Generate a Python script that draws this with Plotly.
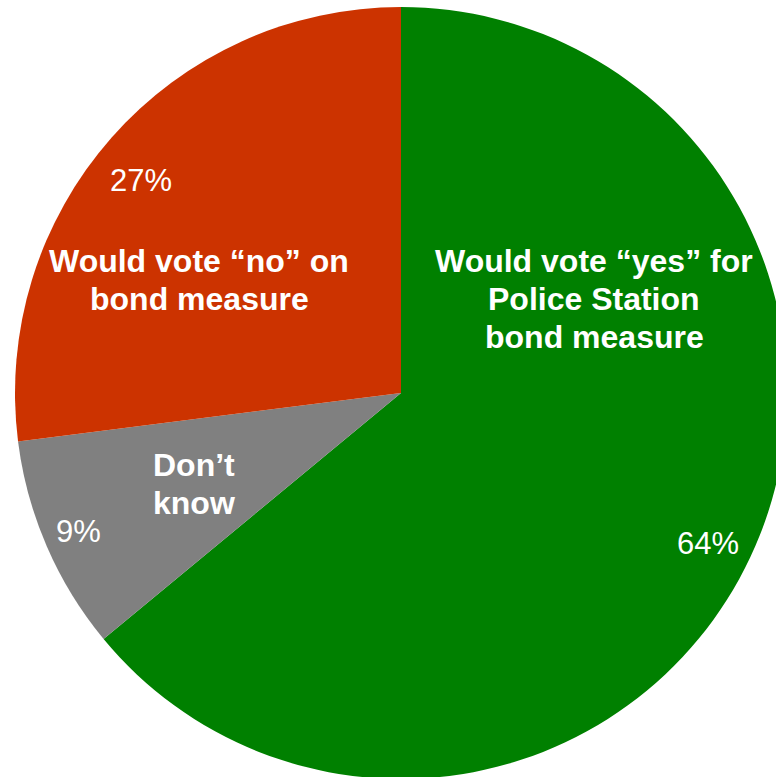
import plotly.graph_objects as go

# Data
categories = ["Would vote “yes” for<br>Police Station<br>bond measure", "Don’t<br>know", "Would vote “no” on<br>bond measure"]
values = [64, 9, 27]
pct_labels = ["64%", "9%", "27%"]
colors = ["#008000", "#808080", "#CC3300"]

# Figure geometry (figure is slightly larger than window so the pie is cropped like the reference)
W, H = 802, 786
ML, MR, MT, MB = 15, 15, 7, 7
PW, PH = W - ML - MR, H - MT - MB
LINE = 38

def px(x, y):
    return (x - ML) / PW, 1 - (y - MT) / PH

fig = go.Figure(go.Pie(
    labels=["yes", "dk", "no"],
    values=values,
    sort=False,
    direction="clockwise",
    rotation=0,
    marker=dict(colors=colors, line=dict(width=0)),
    textinfo="none",
    hoverinfo="skip",
    showlegend=False,
))

name_pos = [(594, 299), (194, 484), (199, 280)]
pct_pos = [(708, 543), (78, 531), (141, 180)]

anns = []
for txt, (x, y) in zip(categories, name_pos):
    lines = txt.split("<br>")
    n = len(lines)
    for i, ln in enumerate(lines):
        ax, ay = px(x, y + (i - (n - 1) / 2) * LINE)
        anns.append(dict(x=ax, y=ay, xref="paper", yref="paper", text="<b>" + ln + "</b>",
                         showarrow=False, xanchor="center", yanchor="middle",
                         font=dict(family="Liberation Sans, Arial", size=32, color="white")))
for txt, (x, y) in zip(pct_labels, pct_pos):
    ax, ay = px(x, y)
    anns.append(dict(x=ax, y=ay, xref="paper", yref="paper", text=txt,
                     showarrow=False, xanchor="center", yanchor="middle",
                     font=dict(family="Liberation Sans, Arial", size=31, color="white")))

fig.update_layout(
    width=W, height=H,
    margin=dict(l=ML, r=MR, t=MT, b=MB, pad=0),
    paper_bgcolor="white",
    plot_bgcolor="white",
    annotations=anns,
    showlegend=False,
)

fig.write_html("out.html", post_script="document.body.style.margin='0';document.body.style.overflow='hidden';",
               config={"displayModeBar": False})
